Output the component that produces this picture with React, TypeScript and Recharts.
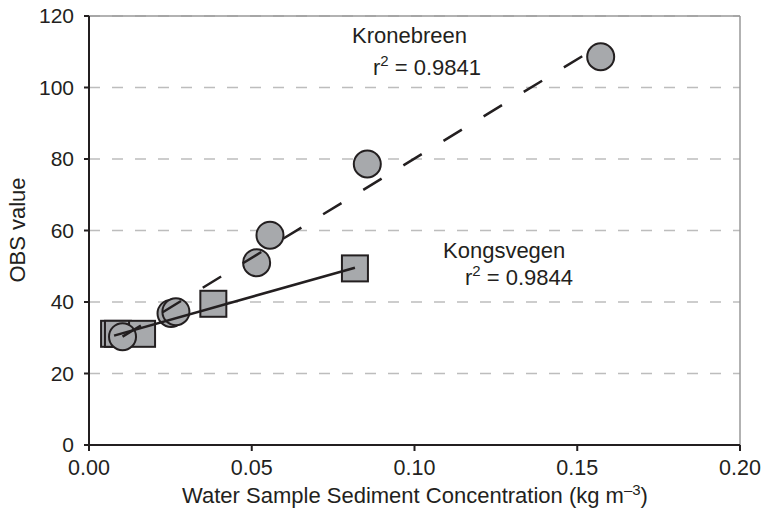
import {
  ScatterChart, Scatter, XAxis, YAxis, CartesianGrid, ReferenceLine, Customized
} from "recharts";

const xTicks = [0, 0.05, 0.1, 0.15, 0.2];
const yTicks = [0, 20, 40, 60, 80, 100, 120];

// Kronebreen samples (circles)
const kroneX = [0.0103, 0.0252, 0.0267, 0.0515, 0.0556, 0.0855, 0.1572];
const kroneY = [30.3, 36.8, 37.3, 51.0, 58.7, 78.6, 108.6];

// Kongsvegen samples (squares)
const kongsX = [0.0077, 0.0089, 0.0163, 0.0382, 0.0817];
const kongsY = [31.1, 31.1, 31.1, 39.5, 49.4];

// regression lines, end points
const kroneFitX = [0.0103, 0.1572];
const kroneFitY = [30.3, 111.9];
const kongsFitX = [0.0077, 0.0817];
const kongsFitY = [30.6, 49.6];

const zip = (xs: number[], ys: number[]) => xs.map((x, i) => ({ x, y: ys[i] }));

const kroneData = zip(kroneX, kroneY);
const kongsData = zip(kongsX, kongsY);
const kroneFit = zip(kroneFitX, kroneFitY);
const kongsFit = zip(kongsFitX, kongsFitY);

const FONT = "'Liberation Sans', Arial, sans-serif";
const FILL = "#a7a9ac";
const EDGE = "#231f20";

const CircleMark = (p: any) => (
  <circle cx={p.cx} cy={p.cy} r={13.5} fill={FILL} stroke={EDGE} strokeWidth={2} />
);
const SquareMark = (p: any) => (
  <rect x={p.cx - 13} y={p.cy - 13} width={26} height={26} fill={FILL} stroke={EDGE} strokeWidth={2} />
);
const NoMark = () => <g />;

function Texts() {
  return (
    <g fontFamily={FONT} fill="#231f20">
      <text x={352} y={43} fontSize={22}>Kronebreen</text>
      <text x={373} y={75} fontSize={22}>
        r<tspan dy={-9} fontSize={15}>2</tspan><tspan dy={9}> = 0.9841</tspan>
      </text>
      <text x={443} y={258} fontSize={22}>Kongsvegen</text>
      <text x={465} y={285} fontSize={22}>
        r<tspan dy={-9} fontSize={15}>2</tspan><tspan dy={9}> = 0.9844</tspan>
      </text>
      <text x={415} y={503} fontSize={22} textAnchor="middle">
        Water Sample Sediment Concentration (kg m<tspan dy={-8} fontSize={15}>–3</tspan><tspan dy={8}>)</tspan>
      </text>
      <text x={25} y={230} fontSize={22} textAnchor="middle" transform="rotate(-90 25 230)">
        OBS value
      </text>
    </g>
  );
}

export default function App() {
  return (
    <div style={{ position: "absolute", left: 0, top: 0, background: "#fff" }}>
      <ScatterChart
        width={765}
        height={513}
        margin={{ top: 16, right: 25, bottom: 0, left: 0 }}
      >
        <CartesianGrid vertical={false} stroke="#bdbdbd" strokeWidth={1.5} strokeDasharray="11 12" />
        <XAxis
          type="number"
          dataKey="x"
          domain={[0, 0.2]}
          ticks={xTicks}
          tickFormatter={(v: number) => v.toFixed(2)}
          height={68}
          tickSize={6}
          tickMargin={9}
          stroke={EDGE}
          strokeWidth={2}
          tick={{ fill: "#231f20", fontSize: 21.5, fontFamily: FONT }}
          allowDataOverflow
        />
        <YAxis
          type="number"
          dataKey="y"
          domain={[0, 120]}
          ticks={yTicks}
          width={89}
          tickSize={5}
          tickMargin={10}
          stroke={EDGE}
          strokeWidth={2}
          tick={{ fill: "#231f20", fontSize: 21, fontFamily: FONT }}
          allowDataOverflow
        />
        <ReferenceLine y={120} stroke="#999" strokeWidth={1.5} />
        <ReferenceLine x={0.2} stroke="#999" strokeWidth={1.5} />
        <Scatter data={kongsData} shape={SquareMark} isAnimationActive={false} />
        <Scatter data={kroneData} shape={CircleMark} isAnimationActive={false} />
        <Scatter
          data={kroneFit}
          shape={NoMark}
          line={{ stroke: EDGE, strokeWidth: 2.5, strokeDasharray: "21.5 25.5" }}
          isAnimationActive={false}
        />
        <Scatter
          data={kongsFit}
          shape={NoMark}
          line={{ stroke: EDGE, strokeWidth: 2.5 }}
          isAnimationActive={false}
        />
        <Customized component={Texts} />
      </ScatterChart>
    </div>
  );
}
